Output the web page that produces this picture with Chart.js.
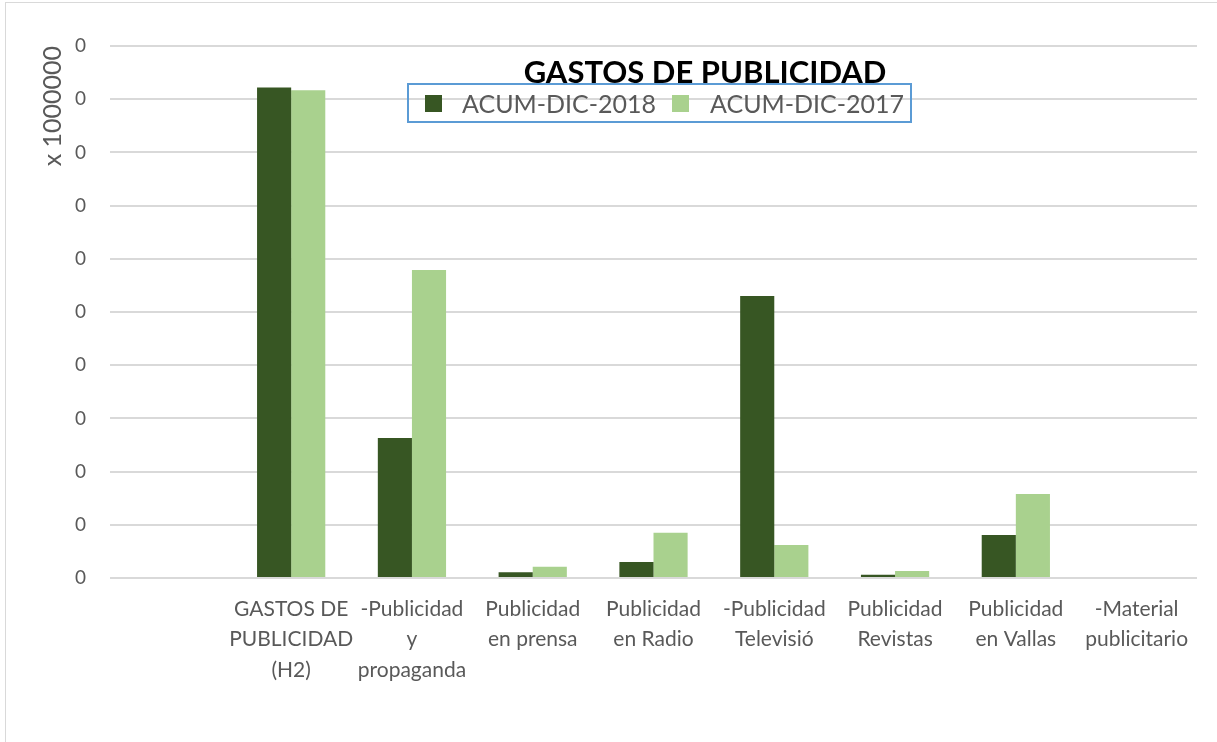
<!DOCTYPE html>
<html>
<head>
<meta charset="utf-8">
<script src="https://cdn.jsdelivr.net/npm/chart.js@4"></script>
<style>
  html, body { margin: 0; padding: 0; background: #fff; }
  #wrap { position: relative; width: 1217px; height: 742px; overflow: hidden; }
  #frame { position: absolute; left: 5px; top: 2px; width: 1220px; height: 750px; border-left: 1px solid #d9d9d9; border-top: 1px solid #d9d9d9; }
  #title { position: absolute; left: 400px; width: 610px; top: 51px; height: 33px; overflow: hidden; text-align: center;
           font-family: Lato, sans-serif; font-weight: bold; font-size: 31px; line-height: 40px; color: #000; }
  #title span { position: relative; left: 0px; }
  #legend { position: absolute; left: 407px; top: 83px; width: 501px; height: 36px; border: 2px solid #5B9BD5; }
  .sq { position: absolute; width: 17px; height: 17px; top: 10px; }
  .lt { position: absolute; top: 0; font-family: Lato, sans-serif; font-size: 25px; line-height: 36px; color: #595959; white-space: nowrap; }
</style>
</head>
<body>
<div id="wrap">
  <canvas id="c" width="1217" height="742"></canvas>
  <div id="frame"></div>
  <div id="title"><span id="titleText"></span></div>
  <div id="legend">
    <div class="sq" id="sq0" style="left:16px"></div>
    <div class="lt" id="lt0" style="left:53px"></div>
    <div class="sq" id="sq1" style="left:263px"></div>
    <div class="lt" id="lt1" style="left:301px"></div>
  </div>
</div>
<script>
const chartTitle = "GASTOS DE PUBLICIDAD";
const yAxisTitle = "x 1000000";
const categories = [
  [""],
  ["GASTOS DE", "PUBLICIDAD", "(H2)"],
  ["-Publicidad", "y", "propaganda"],
  ["Publicidad", "en prensa"],
  ["Publicidad", "en Radio"],
  ["-Publicidad", "Televisió"],
  ["Publicidad", "Revistas"],
  ["Publicidad", "en Vallas"],
  ["-Material", "publicitario"]
];
const seriesNames = ["ACUM-DIC-2018", "ACUM-DIC-2017"];
const acum2018 = [null, 9.22, 2.63, 0.11, 0.30, 5.30, 0.06, 0.81, 0];
const acum2017 = [null, 9.17, 5.79, 0.21, 0.85, 0.62, 0.13, 1.58, 0];
const yTickLabels = ["0", "0", "0", "0", "0", "0", "0", "0", "0", "0", "0"];
const colors = ["#375623", "#A9D18E"];

document.getElementById("titleText").textContent = chartTitle;
document.getElementById("lt0").textContent = seriesNames[0];
document.getElementById("lt1").textContent = seriesNames[1];
document.getElementById("sq0").style.background = colors[0];
document.getElementById("sq1").style.background = colors[1];

new Chart(document.getElementById("c"), {
  type: "bar",
  data: {
    labels: categories,
    datasets: [
      { label: seriesNames[0], data: acum2018, backgroundColor: colors[0] },
      { label: seriesNames[1], data: acum2017, backgroundColor: colors[1] }
    ]
  },
  options: {
    responsive: false,
    animation: false,
    devicePixelRatio: 1,
    layout: { padding: { top: 46, right: 20, left: 0, bottom: 0 } },
    datasets: { bar: { categoryPercentage: 0.565, barPercentage: 1.0 } },
    plugins: { legend: { display: false }, title: { display: false }, tooltip: { enabled: false } },
    scales: {
      x: {
        grid: { display: false },
        border: { display: false },
        ticks: {
          color: "#595959",
          font: { family: "Lato", size: 21, lineHeight: 1.45 },
          padding: 8,
          maxRotation: 0, minRotation: 0, autoSkip: false
        },
        afterFit: (s) => { s.height = 164; }
      },
      y: {
        min: 0, max: 10,
        grid: { color: "#d9d9d9", lineWidth: 2, drawTicks: false },
        border: { display: false },
        ticks: {
          stepSize: 1,
          color: "#595959",
          font: { family: "Lato", size: 19 },
          padding: 24,
          callback: (v, i) => yTickLabels[i]
        },
        title: {
          display: true, text: yAxisTitle, align: "end",
          color: "#595959", font: { family: "Lato", size: 25 }, padding: { top: 38, bottom: 0 }
        },
        afterFit: (s) => { s.width = 110; }
      }
    }
  }
});
</script>
</body>
</html>
